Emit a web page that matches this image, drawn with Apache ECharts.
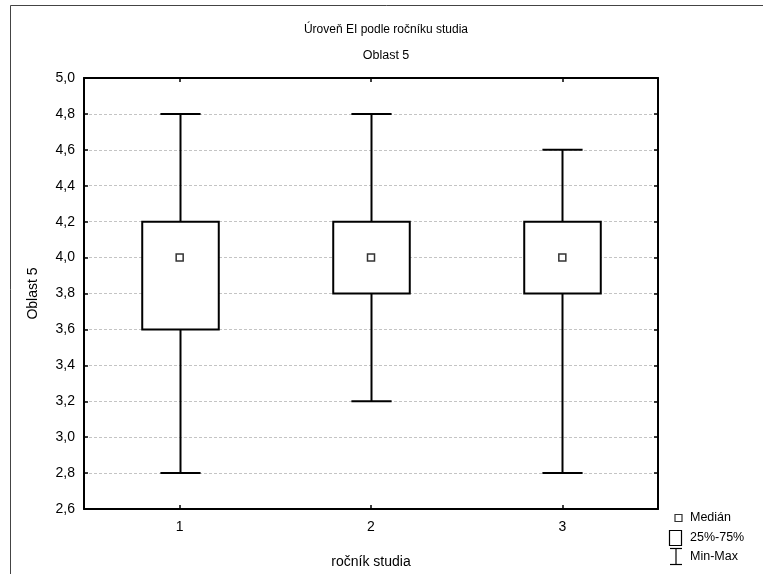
<!DOCTYPE html>
<html>
<head>
<meta charset="utf-8">
<script src="https://cdn.jsdelivr.net/npm/echarts@6/dist/echarts.min.js"></script>
<style>
html,body{margin:0;padding:0;background:#fff;}
#chart{width:763px;height:574px;}
</style>
</head>
<body>
<div id="chart"></div>
<script>
const categories = ['1', '2', '3'];
const minVals = [2.8, 3.2, 2.8];
const q1Vals = [3.6, 3.8, 3.8];
const medianVals = [4.0, 4.0, 4.0];
const q3Vals = [4.2, 4.2, 4.2];
const maxVals = [4.8, 4.8, 4.6];
const yMin = 2.6, yMax = 5.0, yStep = 0.2;
const titleText = 'Úroveň EI podle ročníku studia';
const subtitleText = 'Oblast 5';
const xName = 'ročník studia';
const yName = 'Oblast 5';
const legendLabels = ['Medián', '25%-75%', 'Min-Max'];

const FONT = '"Liberation Sans", Arial, sans-serif';
const chart = echarts.init(document.getElementById('chart'), null, {renderer: 'canvas'});

const boxData = categories.map((c, i) => [i, minVals[i], q1Vals[i], medianVals[i], q3Vals[i], maxVals[i]]);
const medData = categories.map((c, i) => [i, medianVals[i]]);

function fmt(v) { return (Math.round(v * 10) / 10).toFixed(1).replace('.', ','); }

const axisLineStyle = {show: true, lineStyle: {color: '#000', width: 2}};

const option = {
  backgroundColor: '#fff',
  animation: false,
  grid: {left: 84, right: 105, top: 78, bottom: 65, containLabel: false},
  xAxis: [{
    type: 'category', data: categories, position: 'bottom',
    boundaryGap: true,
    axisLine: axisLineStyle,
    axisTick: {show: true, inside: true, length: 4, alignWithLabel: true, lineStyle: {color: '#000', width: 1.5}},
    axisLabel: {color: '#000', fontFamily: FONT, fontSize: 14, margin: 11},
    splitLine: {show: false},
    name: xName, nameLocation: 'middle', nameGap: 46,
    nameTextStyle: {color: '#000', fontFamily: FONT, fontSize: 14}
  }, {
    type: 'category', data: categories, position: 'top',
    boundaryGap: true,
    axisLine: axisLineStyle,
    axisTick: {show: true, inside: true, length: 4, alignWithLabel: true, lineStyle: {color: '#000', width: 1.5}},
    axisLabel: {show: false},
    splitLine: {show: false}
  }],
  yAxis: [{
    type: 'value', min: yMin, max: yMax, interval: yStep, position: 'left',
    axisLine: axisLineStyle,
    axisTick: {show: true, inside: true, length: 4, lineStyle: {color: '#000', width: 1.5}},
    axisLabel: {color: '#000', fontFamily: FONT, fontSize: 14, margin: 9, formatter: fmt},
    splitLine: {show: true, lineStyle: {color: '#c4c4c4', type: [3, 2], width: 1}},
    name: yName, nameLocation: 'middle', nameGap: 44, nameRotate: 90,
    nameTextStyle: {color: '#000', fontFamily: FONT, fontSize: 14}
  }, {
    type: 'value', min: yMin, max: yMax, interval: yStep, position: 'right',
    axisLine: axisLineStyle,
    axisTick: {show: true, inside: true, length: 4, lineStyle: {color: '#000', width: 1.5}},
    axisLabel: {show: false},
    splitLine: {show: false}
  }],
  series: [{
    type: 'custom',
    xAxisIndex: 0, yAxisIndex: 0,
    data: boxData,
    z: 3,
    renderItem: function (params, api) {
      const x = api.value(0);
      const pMin = api.coord([x, api.value(1)]);
      const pQ1 = api.coord([x, api.value(2)]);
      const pQ3 = api.coord([x, api.value(4)]);
      const pMax = api.coord([x, api.value(5)]);
      const band = api.size([1, 0])[0];
      const bw = band * 0.40;
      const cw = band * 0.21;
      const cx = Math.round(pMin[0]) + 0.5;
      const st = {stroke: '#000', lineWidth: 2, fill: null};
      return {
        type: 'group',
        children: [
          {type: 'line', shape: {x1: cx, y1: pMax[1], x2: cx, y2: pQ3[1]}, style: st},
          {type: 'line', shape: {x1: cx, y1: pQ1[1], x2: cx, y2: pMin[1]}, style: st},
          {type: 'line', shape: {x1: cx - cw / 2, y1: pMax[1], x2: cx + cw / 2, y2: pMax[1]}, style: st},
          {type: 'line', shape: {x1: cx - cw / 2, y1: pMin[1], x2: cx + cw / 2, y2: pMin[1]}, style: st},
          {type: 'rect', shape: {x: cx - bw / 2, y: pQ3[1], width: bw, height: pQ1[1] - pQ3[1]},
            style: {stroke: '#000', lineWidth: 2, fill: '#fff'}}
        ]
      };
    }
  }, {
    type: 'scatter',
    xAxisIndex: 0, yAxisIndex: 0,
    data: medData,
    symbol: 'rect', symbolSize: 7,
    itemStyle: {color: '#fff', borderColor: '#333', borderWidth: 1.5, opacity: 1},
    z: 5
  }],
  graphic: [
    {type: 'polyline', shape: {points: [[10.5, 574], [10.5, 5.5], [763, 5.5]]},
      style: {stroke: '#444', lineWidth: 1, fill: null}, silent: true},
    {type: 'text', x: 386, y: 30, style: {text: titleText, textAlign: 'center', textVerticalAlign: 'middle',
      font: '12px ' + FONT, fill: '#000'}},
    {type: 'text', x: 386, y: 56, style: {text: subtitleText, textAlign: 'center', textVerticalAlign: 'middle',
      font: '12.5px ' + FONT, fill: '#000'}},
    {type: 'rect', shape: {x: 675, y: 514.5, width: 7, height: 7}, style: {stroke: '#333', lineWidth: 1.2, fill: '#fff'}},
    {type: 'rect', shape: {x: 669.5, y: 530.5, width: 12, height: 15}, style: {stroke: '#000', lineWidth: 1.2, fill: '#fff'}},
    {type: 'line', shape: {x1: 670, y1: 548.5, x2: 682, y2: 548.5}, style: {stroke: '#000', lineWidth: 1.2}},
    {type: 'line', shape: {x1: 676, y1: 548.5, x2: 676, y2: 564.5}, style: {stroke: '#000', lineWidth: 1.2}},
    {type: 'line', shape: {x1: 670, y1: 564.5, x2: 682, y2: 564.5}, style: {stroke: '#000', lineWidth: 1.2}},
    {type: 'text', x: 690, y: 518, style: {text: legendLabels[0], textVerticalAlign: 'middle', font: '12.5px ' + FONT, fill: '#000'}},
    {type: 'text', x: 690, y: 538, style: {text: legendLabels[1], textVerticalAlign: 'middle', font: '12.5px ' + FONT, fill: '#000'}},
    {type: 'text', x: 690, y: 557, style: {text: legendLabels[2], textVerticalAlign: 'middle', font: '12.5px ' + FONT, fill: '#000'}}
  ]
};
chart.setOption(option);
</script>
</body>
</html>
